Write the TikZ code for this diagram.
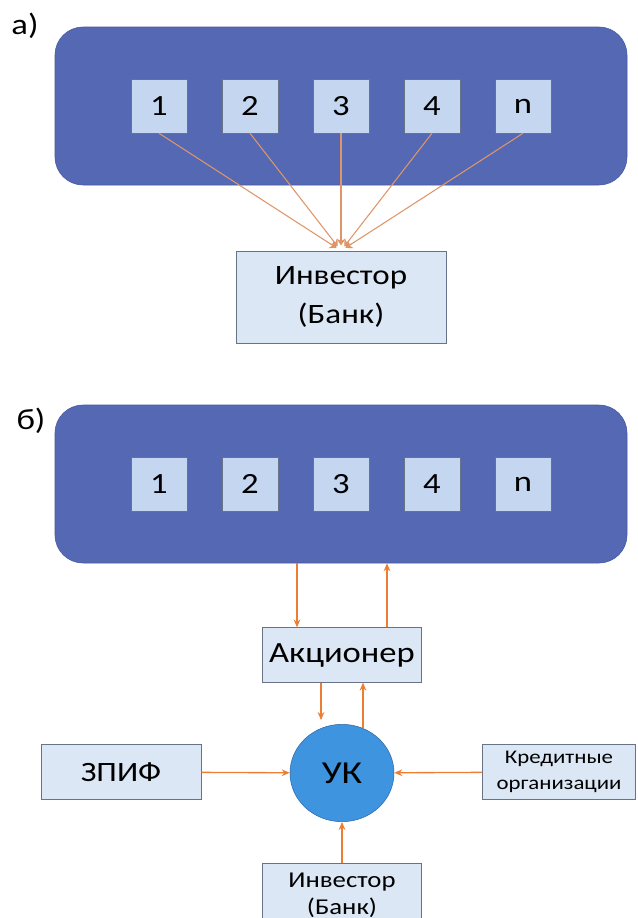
\documentclass[tikz,border=0pt]{standalone}
\usepackage{fontspec}
\setmainfont[FakeStretch=1.18]{Carlito}
\usetikzlibrary{arrows.meta,positioning,shapes.geometric}
\definecolor{pnl_blue}{RGB}{84,104,180}
\definecolor{pnl_edge}{RGB}{70,88,160}
\definecolor{item_fill}{RGB}{196,214,240}
\definecolor{box_fill}{RGB}{220,231,245}
\definecolor{box_edge}{RGB}{105,115,135}
\definecolor{uk_fill}{RGB}{62,148,222}
\definecolor{uk_edge}{RGB}{45,105,170}
\definecolor{flow_orange}{RGB}{237,125,49}
\definecolor{ray_orange}{RGB}{222,150,105}

\tikzset{
  panel/.style={draw=pnl_edge, fill=pnl_blue, rounded corners=21pt,
                minimum width=429pt, minimum height=118.5pt},
  item/.style={draw=box_edge, fill=item_fill, minimum width=42pt,
               minimum height=40.5pt, inner sep=0pt,
               font=\fontsize{22}{24}\selectfont},
  party/.style={draw=box_edge, fill=box_fill, inner sep=0pt, align=center},
  ray/.style={ray_orange, line width=0.8pt,
              -{Stealth[length=5pt,width=7pt]}},
  flow/.style={flow_orange, line width=1pt,
               -{Stealth[length=6pt,width=5pt]}},
  tag/.style={font=\fontsize{22}{24}\selectfont}
}

\begin{document}
\begin{tikzpicture}[x=0.75pt,y=-0.75pt]
  \clip (0,0) rectangle (638,918);

  % a)
  \node[tag] (taga) at (25,26) {а)};
  \node[panel] (pa) at (341,106) {};
  \foreach \lbl [count=\i] in {1,2,3,4,n}
    \node[item] (a\i) at ({159+91*(\i-1)},106) {\lbl};
  \node[party, minimum width=157.5pt, minimum height=69pt,
        font=\fontsize{21}{29}\selectfont] (inva) at (341,297)
    {Инвестор\\(Банк)};
  \foreach \i in {1,...,5}
    \draw[ray, shorten >=4pt] (a\i.south) -- (inva.north);

  % б)
  \node[tag] (tagb) at (31,421) {б)};
  \node[panel] (pb) at (341,484) {};
  \foreach \lbl [count=\i] in {1,2,3,4,n}
    \node[item] (b\i) at ({159+91*(\i-1)},484) {\lbl};
  \node[party, minimum width=119pt, minimum height=41pt,
        font=\fontsize{22}{24}\selectfont] (akc) at (342,655) {Акционер};
  \node[ellipse, draw=uk_edge, fill=uk_fill, minimum width=78pt,
        minimum height=73pt, font=\fontsize{24}{26}\selectfont]
    (uk) at (342,773) {УК};
  \node[party, minimum width=120pt, minimum height=41pt,
        font=\fontsize{21}{24}\selectfont] (zpif) at (121,772) {ЗПИФ};
  \node[party, minimum width=115pt, minimum height=41pt,
        font=\fontsize{14.5}{19}\selectfont] (kred) at (559,772)
    {Кредитные\\организации};
  \node[party, minimum width=119pt, minimum height=48pt,
        font=\fontsize{17}{20}\selectfont] (invb) at (342,895)
    {Инвестор\\(Банк)};

  \coordinate (dn) at (297,0);
  \coordinate (up) at (387,0);
  \coordinate (dn2) at (321,0);
  \coordinate (up2) at (363,0);
  \draw[flow] (pb.south -| dn) -- (akc.north -| dn);
  \draw[flow] (akc.north -| up) -- (pb.south -| up);
  \draw[flow] (akc.south -| dn2) -- ([yshift=3pt]uk.north -| dn2);
  \draw[flow] ([yshift=-3pt]uk.north -| up2) -- (akc.south -| up2);
  \draw[flow] (zpif) -- (uk);
  \draw[flow] (kred) -- (uk);
  \draw[flow] (invb) -- (uk);
\end{tikzpicture}
\end{document}
